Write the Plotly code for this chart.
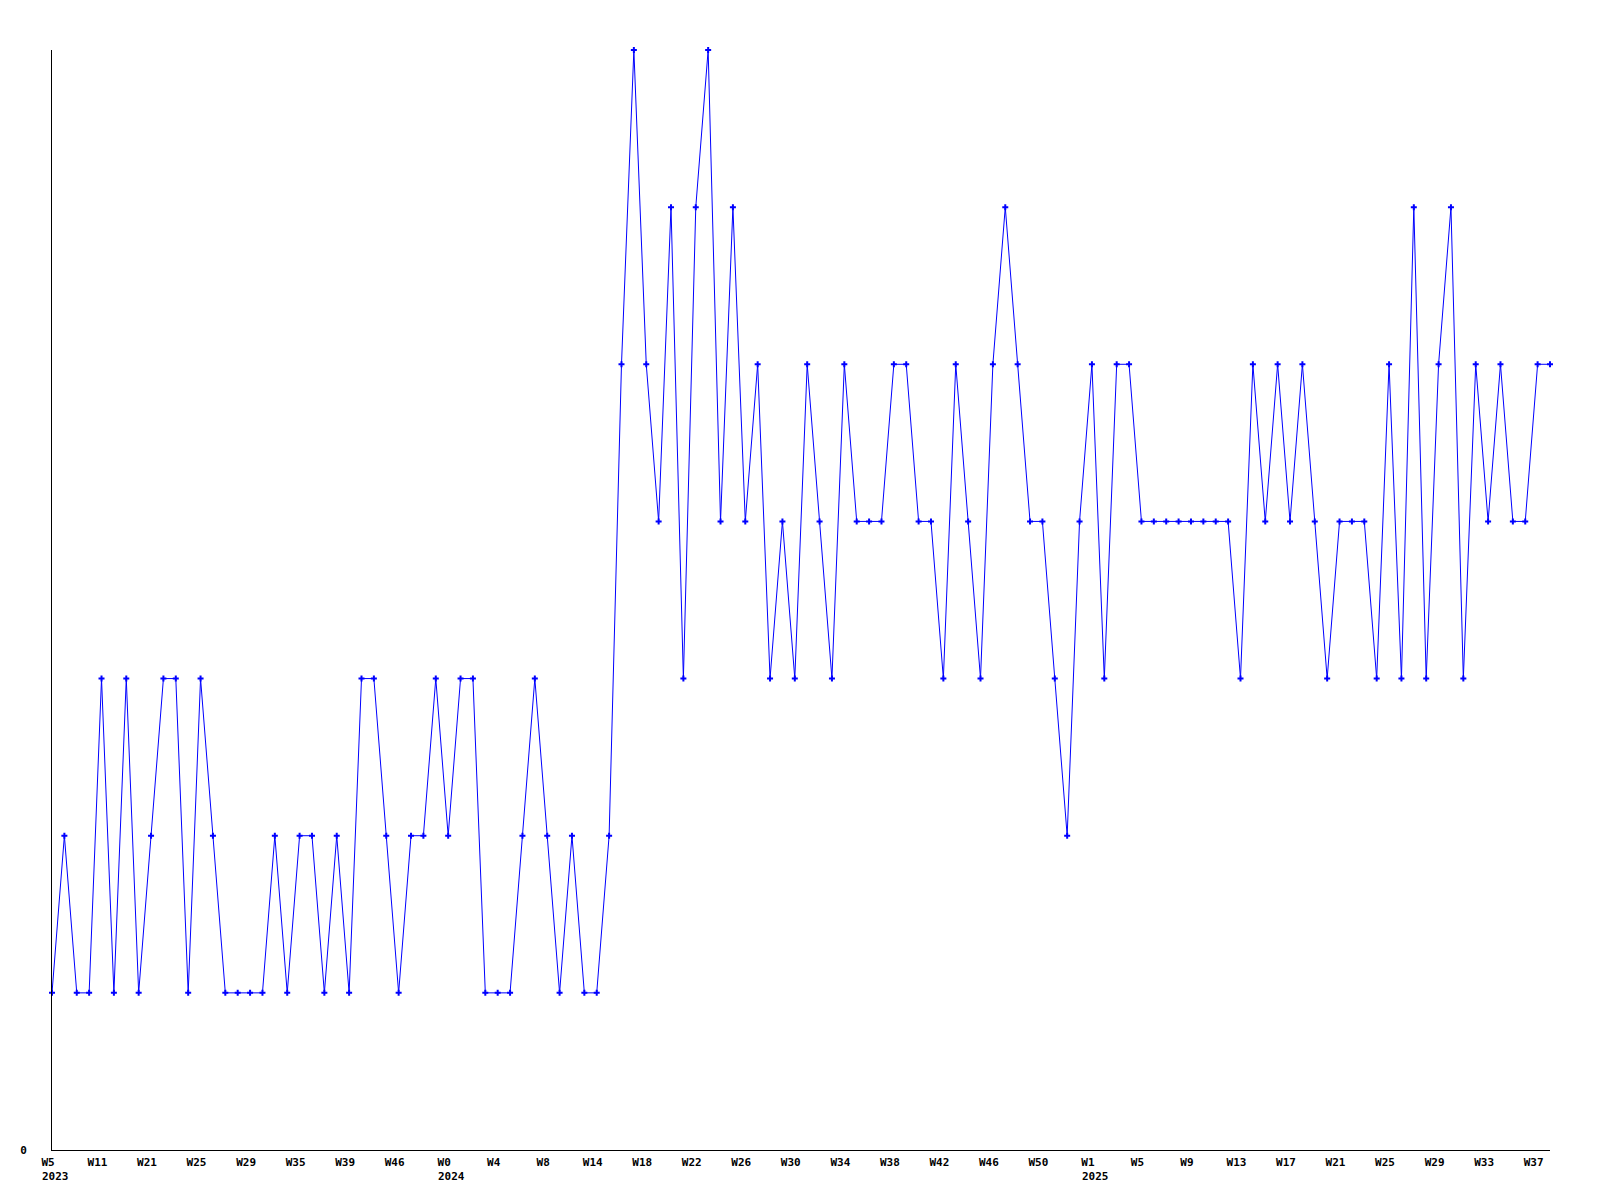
"""
Weekly counts, 2023 W5 to 2025 W38, drawn as a plain marker line.
"""

from __future__ import annotations

import plotly.graph_objects as go

# weekly values, one per point, in order
values = [
    1, 2, 1, 1, 3, 1, 3, 1, 2, 3, 3, 1, 3, 2, 1, 1, 1, 1, 2, 1,
    2, 2, 1, 2, 1, 3, 3, 2, 1, 2, 2, 3, 2, 3, 3, 1, 1, 1, 2, 3,
    2, 1, 2, 1, 1, 2, 5, 7, 5, 4, 6, 3, 6, 7, 4, 6, 4, 5, 3, 4,
    3, 5, 4, 3, 5, 4, 4, 4, 5, 5, 4, 4, 3, 5, 4, 3, 5, 6, 5, 4,
    4, 3, 2, 4, 5, 3, 5, 5, 4, 4, 4, 4, 4, 4, 4, 4, 3, 5, 4, 5,
    4, 5, 4, 3, 4, 4, 4, 3, 5, 3, 6, 3, 5, 6, 3, 5, 4, 5, 4, 4,
    5, 5,
]

# labelled points (every fourth week) and their labels
tick_index = list(range(0, 121, 4))
tick_labels = [
    "W5", "W11", "W21", "W25", "W29", "W35", "W39", "W46",
    "W0", "W4", "W8", "W14", "W18", "W22", "W26", "W30",
    "W34", "W38", "W42", "W46", "W50", "W1", "W5", "W9",
    "W13", "W17", "W21", "W25", "W29", "W33", "W37",
]

# year markers under the first week of each year
year_index = [0, 32, 84]
year_labels = ["2023", "2024", "2025"]

FONT = dict(family="DejaVu Sans Mono", size=11, color="black", weight="bold")

x = list(range(len(values)))

fig = go.Figure()
fig.add_trace(
    go.Scatter(
        x=x,
        y=values,
        mode="lines+markers",
        line=dict(color="#0000ff", width=1),
        marker=dict(symbol="cross", size=5, color="#0000ff", line=dict(width=0)),
        cliponaxis=False,
        hoverinfo="x+y",
    )
)

for idx, label in zip(year_index, year_labels):
    fig.add_annotation(
        x=idx, y=0, xref="x", yref="paper",
        text=label, showarrow=False,
        xanchor="left", yanchor="top",
        xshift=-12, yshift=-18,
        font=FONT,
    )

# page body adds an 8px margin, so the figure is sized to fit inside it
fig.update_layout(
    width=1584,
    height=1184,
    paper_bgcolor="white",
    plot_bgcolor="white",
    showlegend=False,
    margin=dict(l=42, r=42, t=42, b=42),
    xaxis=dict(
        range=[0, len(values) - 1],
        tickmode="array",
        tickvals=tick_index,
        ticktext=tick_labels,
        ticks="",
        showgrid=False,
        zeroline=False,
        showline=True,
        linecolor="black",
        linewidth=1,
        tickfont=FONT,
        tickangle=0,
        ticklabelshift=-4,
        ticklabelstandoff=2,
    ),
    yaxis=dict(
        range=[0, 7],
        tickmode="array",
        tickvals=[0],
        ticktext=["0"],
        ticks="",
        showgrid=False,
        zeroline=False,
        showline=True,
        linecolor="black",
        linewidth=1,
        tickfont=FONT,
        ticklabelstandoff=22,
    ),
)

fig.write_html("out.html")
